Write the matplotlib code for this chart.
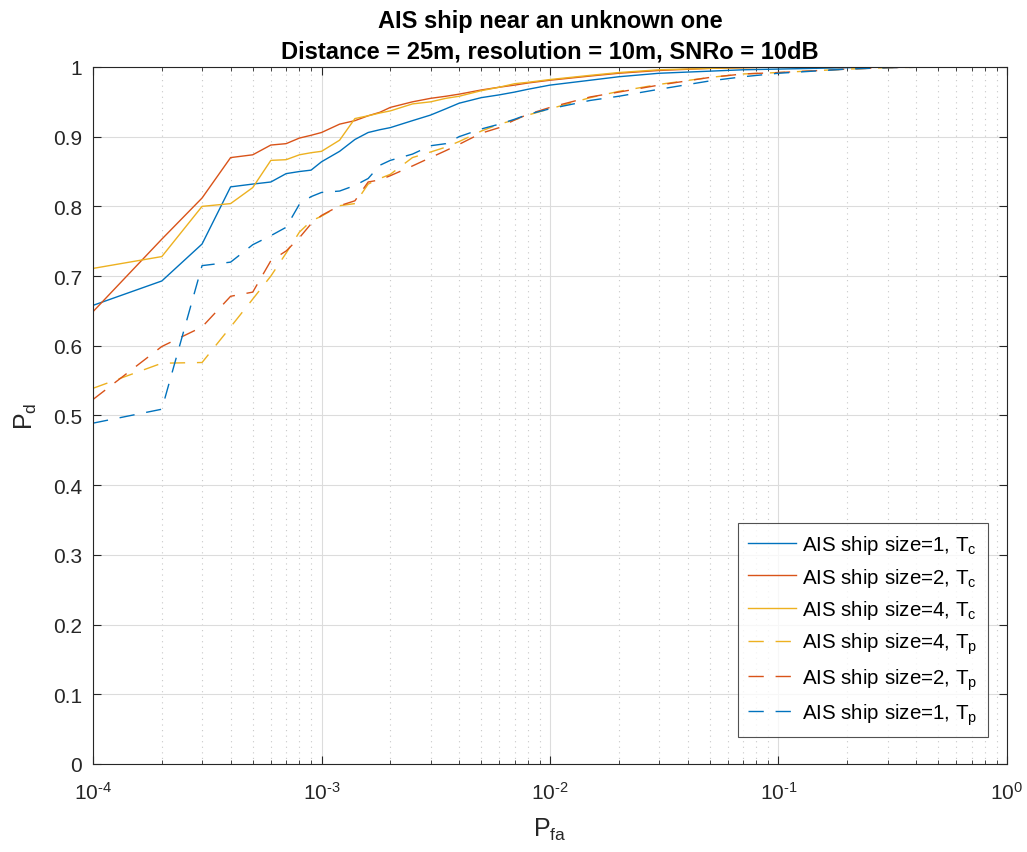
import matplotlib
matplotlib.use("Agg")
import matplotlib.pyplot as plt
from matplotlib.ticker import LogLocator, FixedLocator, FuncFormatter, NullFormatter
import math

plt.rcParams['font.family'] = ['Liberation Sans', 'DejaVu Sans']
plt.rcParams['mathtext.fontset'] = 'custom'
plt.rcParams['mathtext.rm'] = 'Liberation Sans'
plt.rcParams['mathtext.it'] = 'Liberation Sans:italic'
plt.rcParams['mathtext.bf'] = 'Liberation Sans:bold'
plt.rcParams['axes.unicode_minus'] = False

# False-alarm probabilities at which detection probability was evaluated
pfa = [1e-4, 2e-4, 3e-4, 4e-4, 5e-4, 6e-4, 7e-4, 8e-4, 9e-4, 1e-3,
       1.2e-3, 1.4e-3, 1.6e-3, 1.8e-3, 2e-3, 2.5e-3, 3e-3, 3.5e-3, 4e-3,
       5e-3, 6e-3, 7e-3, 8e-3, 1e-2, 1.5e-2, 2e-2, 3e-2, 5e-2, 7e-2,
       0.1, 0.2, 0.3, 0.5, 0.7, 1.0]

pd_size1_tc = [0.658, 0.693, 0.746, 0.828, 0.832, 0.835, 0.847, 0.850, 0.852, 0.864,
               0.879, 0.896, 0.906, 0.910, 0.913, 0.923, 0.931, 0.940, 0.948,
               0.956, 0.960, 0.964, 0.968, 0.974, 0.981, 0.986, 0.991, 0.994, 0.996,
               0.997, 0.999, 1.0, 1.0, 1.0, 1.0]
pd_size2_tc = [0.649, 0.753, 0.812, 0.870, 0.874, 0.888, 0.890, 0.898, 0.902, 0.906,
               0.918, 0.923, 0.930, 0.935, 0.942, 0.950, 0.955, 0.958, 0.961,
               0.967, 0.971, 0.974, 0.977, 0.981, 0.987, 0.991, 0.995, 0.998, 0.999,
               1.0, 1.0, 1.0, 1.0, 1.0, 1.0]
pd_size4_tc = [0.711, 0.728, 0.800, 0.804, 0.827, 0.866, 0.867, 0.874, 0.877, 0.879,
               0.895, 0.926, 0.930, 0.934, 0.937, 0.947, 0.950, 0.955, 0.958,
               0.966, 0.971, 0.976, 0.978, 0.982, 0.988, 0.992, 0.996, 0.998, 0.999,
               1.0, 1.0, 1.0, 1.0, 1.0, 1.0]
pd_size4_tp = [0.539, 0.575, 0.576, 0.627, 0.667, 0.700, 0.733, 0.763, 0.779, 0.786,
               0.801, 0.804, 0.832, 0.840, 0.846, 0.870, 0.878, 0.885, 0.893,
               0.908, 0.918, 0.924, 0.931, 0.940, 0.956, 0.965, 0.975, 0.985, 0.990,
               0.992, 0.997, 0.999, 1.0, 1.0, 1.0]
pd_size2_tp = [0.523, 0.599, 0.627, 0.671, 0.677, 0.722, 0.736, 0.755, 0.775, 0.787,
               0.801, 0.808, 0.835, 0.838, 0.844, 0.858, 0.870, 0.880, 0.889,
               0.905, 0.913, 0.924, 0.932, 0.942, 0.957, 0.964, 0.974, 0.985, 0.990,
               0.992, 0.997, 0.999, 1.0, 1.0, 1.0]
pd_size1_tp = [0.489, 0.509, 0.715, 0.720, 0.745, 0.758, 0.770, 0.803, 0.814, 0.820,
               0.822, 0.830, 0.840, 0.859, 0.866, 0.875, 0.887, 0.890, 0.900,
               0.911, 0.918, 0.925, 0.932, 0.940, 0.952, 0.958, 0.968, 0.980, 0.986,
               0.991, 0.997, 0.999, 1.0, 1.0, 1.0]

labels = [r'AIS ship size=1, T$_\mathregular{c}$',
          r'AIS ship size=2, T$_\mathregular{c}$',
          r'AIS ship size=4, T$_\mathregular{c}$',
          r'AIS ship size=4, T$_\mathregular{p}$',
          r'AIS ship size=2, T$_\mathregular{p}$',
          r'AIS ship size=1, T$_\mathregular{p}$']

BLUE, ORANGE, YELLOW = '#0072BD', '#D95319', '#EDB120'
dash = (0, (11, 8.5))
INK = '#262626'


def decade_label(v, pos):
    e = int(round(math.log10(v)))
    return r'$\mathregular{10^{\text{%d}}}$' % e


fig = plt.figure(figsize=(10.27, 8.53), dpi=100)
ax = fig.add_axes([0.0906, 0.1032, 0.8899, 0.8171])

series = [
    (pd_size1_tc, BLUE, '-'),
    (pd_size2_tc, ORANGE, '-'),
    (pd_size4_tc, YELLOW, '-'),
    (pd_size4_tp, YELLOW, dash),
    (pd_size2_tp, ORANGE, dash),
    (pd_size1_tp, BLUE, dash),
]
for (vals, col, ls), lab in zip(series, labels):
    ax.plot(pfa, vals, color=col, linestyle=ls, linewidth=1.0, label=lab)

ax.set_xscale('log')
ax.set_xlim(1e-4, 1)
ax.set_ylim(0, 1)
ax.yaxis.set_major_locator(FixedLocator([i / 10 for i in range(11)]))
ax.yaxis.set_major_formatter(FuncFormatter(lambda v, p: f'{v:g}'))
ax.xaxis.set_major_locator(LogLocator(base=10, numticks=10))
ax.xaxis.set_major_formatter(FuncFormatter(decade_label))
ax.xaxis.set_minor_locator(LogLocator(base=10, subs=range(2, 10), numticks=20))
ax.xaxis.set_minor_formatter(NullFormatter())

ax.grid(True, which='major', color='#dcdcdc', linewidth=0.8)
ax.grid(True, which='minor', axis='x', color='#c8c8c8', linestyle=(0, (1, 4)), linewidth=0.8)
ax.set_axisbelow(True)

ax.tick_params(which='both', direction='in', top=True, right=True,
               labelsize=15, color=INK, labelcolor=INK)
ax.tick_params(which='major', length=6)
ax.tick_params(which='minor', length=3)
ax.tick_params(axis='x', which='major', pad=12)
ax.tick_params(axis='y', which='major', pad=8)
for s in ax.spines.values():
    s.set_color(INK)
    s.set_linewidth(0.8)

ax.set_xlabel(r'P$_\mathregular{fa}$', fontsize=18, color=INK, labelpad=9.5)
ax.set_ylabel(r'P$_\mathregular{d}$', fontsize=18, color=INK, labelpad=10)
ax.set_title('AIS ship near an unknown one\nDistance = 25m, resolution = 10m, SNRo = 10dB',
             fontsize=17, fontweight='bold', linespacing=1.42, pad=6.5)

leg = ax.legend(loc='lower right', bbox_to_anchor=(0.9792, 0.0387), borderaxespad=0,
                fontsize=14.8, frameon=True, fancybox=False, edgecolor=INK,
                handlelength=2.35, labelspacing=0.47, borderpad=0.5, handletextpad=0.3)
leg.get_frame().set_linewidth(0.8)

fig.savefig('out.png', dpi=100)
